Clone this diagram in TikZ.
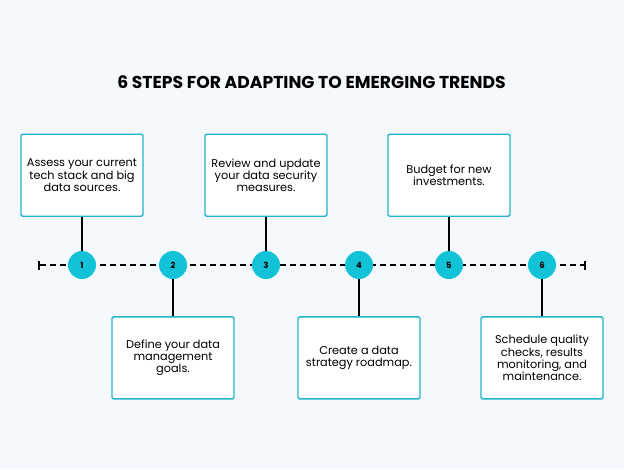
\documentclass[tikz,border=0pt]{standalone}
\usepackage{fontspec}
\setmainfont{Poppins}
\usetikzlibrary{positioning,arrows.meta}
\definecolor{stepcyan}{HTML}{12C3D8}
\definecolor{boxcyan}{HTML}{22B4CE}
\definecolor{pagebg}{HTML}{F5F9FE}

\begin{document}
\begin{tikzpicture}[x=1pt,y=-1pt,
node distance=34pt,
stepbox/.style={draw=boxcyan,line width=1.3pt,fill=white,rounded corners=1.5pt,minimum width=122pt,minimum height=82pt,align=center,font=\fontsize{11.3}{12.2}\selectfont},
dot/.style={circle,fill=stepcyan,minimum size=28pt,inner sep=0pt,font=\fontsize{8.5}{10}\selectfont\bfseries},
link/.style={line width=2pt},
>=Stealth]
\fill[pagebg] (0,0) rectangle (624,469);
\useasboundingbox (0,0) rectangle (624,469);

\node (title) at (311.5,82) {\fontsize{17.2}{20}\selectfont\bfseries 6 STEPS FOR ADAPTING TO EMERGING TRENDS};

% timeline
\coordinate (tstart) at (38,265);
\coordinate (tend) at (586,265);
\draw[link,dash pattern=on 6.5pt off 3.5pt,{Bar[width=9pt]}-{Bar[width=9pt]}] (tstart) -- (tend);

\node[dot] (s1) at (82,265) {1};
\node[dot] (s2) at (173,265) {2};
\node[dot] (s3) at (266,265) {3};
\node[dot] (s4) at (359,265) {4};
\node[dot] (s5) at (449,265) {5};
\node[dot] (s6) at (542,265) {6};

% steps above
\node[stepbox] (b1) [above=of s1] {Assess your current\\tech stack and big\\data sources.};
\node[stepbox] (b3) [above=of s3] {Review and update\\your data security\\measures.};
\node[stepbox] (b5) [above=of s5] {Budget for new\\investments.};
% steps below
\node[stepbox] (b2) [below=37pt of s2] {Define your data\\management\\goals.};
\node[stepbox] (b4) [below=37pt of s4] {Create a data\\strategy roadmap.};
\node[stepbox] (b6) [below=37pt of s6] {Schedule quality\\checks, results\\monitoring, and\\maintenance.};

\draw[link] (b1) -- (s1);
\draw[link] (b3) -- (s3);
\draw[link] (b5) -- (s5);
\draw[link] (s2) -- (b2);
\draw[link] (s4) -- (b4);
\draw[link] (s6) -- (b6);
\end{tikzpicture}
\end{document}
